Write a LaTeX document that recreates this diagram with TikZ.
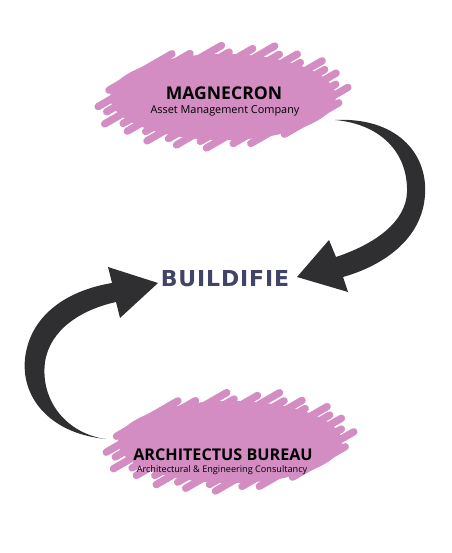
\documentclass[tikz,border=0pt]{standalone}
\usepackage{fontspec}
\setmainfont{Open Sans}
\newfontfamily\logofont[LetterSpace=4]{DejaVu Sans}
\definecolor{blobpink}{HTML}{D38DC2}
\definecolor{arrowgrey}{HTML}{2F2F31}
\definecolor{logonavy}{HTML}{3F4468}

% scribbled blob: centre x, centre y, half width, half height
\newcommand{\scribble}[4]{%
  \begin{scope}[shift={(#1,#2)}]
    \fill[blobpink] (0,0) ellipse ({#3} and {#4});
    \pgfmathsetmacro{\blobr}{(#3)/(#4)}
    \pgfmathsetmacro{\bdx}{cos(-30)}
    \pgfmathsetmacro{\bdy}{sin(-30)}
    \pgfmathsetmacro{\bnx}{0-(\bdy)}
    \pgfmathsetmacro{\bny}{\bdx}
    \pgfmathsetmacro{\bext}{sqrt((#3)*(#3)*(\bnx)*(\bnx)+(#4)*(#4)*(\bny)*(\bny))}
    \foreach \f/\ja/\jb in {-0.93/4/16,-0.8/14/6,-0.67/8/18,-0.53/18/4,-0.4/6/12,
                            -0.27/12/20,-0.13/4/8,0/16/14,0.13/6/4,0.27/14/16,
                            0.4/4/8,0.53/16/12,0.67/8/4,0.8/12/14,0.93/4/6}{
      \pgfmathsetmacro{\bt}{(\f)*(\bext)/(#3)}
      \pgfmathsetmacro{\bA}{(\bdx)*(\bdx)+(\blobr)*(\blobr)*(\bdy)*(\bdy)}
      \pgfmathsetmacro{\bB}{2*(\bt)*((\bnx)*(\bdx)+(\blobr)*(\blobr)*(\bny)*(\bdy))}
      \pgfmathsetmacro{\bC}{(\bt)*(\bt)*((\bnx)*(\bnx)+(\blobr)*(\blobr)*(\bny)*(\bny))-1}
      \pgfmathsetmacro{\bsq}{sqrt(max((\bB)*(\bB)-4*(\bA)*(\bC),0))}
      \pgfmathsetmacro{\bsa}{(0-(\bB)-(\bsq))/(2*(\bA))*(#3)-(\ja)}
      \pgfmathsetmacro{\bsb}{(0-(\bB)+(\bsq))/(2*(\bA))*(#3)+(\jb)}
      \draw[blobpink,line width=4.2pt,line cap=round]
        ({(\f)*(\bext)*(\bnx)+(\bsa)*(\bdx)},{(\f)*(\bext)*(\bny)+(\bsa)*(\bdy)}) --
        ({(\f)*(\bext)*(\bnx)+(\bsb)*(\bdx)},{(\f)*(\bext)*(\bny)+(\bsb)*(\bdy)});
    }
  \end{scope}}

\tikzset{
  firm/.style={font=\bfseries\fontsize{10}{12}\selectfont,inner sep=0pt},
  firmsub/.style={font=\fontsize{6.2}{7}\selectfont,inner sep=0pt},
  bigarrow/.style={fill=arrowgrey,draw=none}
}

\begin{document}
\begin{tikzpicture}[x=0.02cm,y=-0.02cm]
  \useasboundingbox (0,0) rectangle (451,553);

  % blobs
  \scribble{223}{97}{113}{43}
  \scribble{230}{442}{112}{41}

  % texts
  \node[firm] (mag) at (224,93) {MAGNECRON};
  \node[firmsub] (magsub) at (225,111) {Asset Management Company};
  \node[firm,font=\bfseries\fontsize{9.2}{11}\selectfont] (arch) at (223,455) {ARCHITECTUS BUREAU};
  \node[firmsub,font=\fontsize{5.2}{6}\selectfont] (archsub) at (222,470) {Architectural \& Engineering Consultancy};
  \node[inner sep=0pt,text=logonavy,font=\logofont\bfseries\fontsize{12.5}{14}\selectfont] (build) at (225,279) {BUILDIFIE};

  % top arrow, into BUILDIFIE from the right
  \coordinate (topstart) at (335,120);
  \coordinate (toptip) at (297,277);
  \fill[bigarrow] (topstart) .. controls (395,117) and (428,152) .. (425,195)
     .. controls (422,240) and (382,266) .. (343,277)
     -- (348,292) -- (toptip) -- (329,240) -- (336,257)
     .. controls (375,244) and (406,222) .. (407,192)
     .. controls (408,152) and (380,124) .. (topstart) -- cycle;

  % bottom arrow, into BUILDIFIE from the left
  \coordinate (botstart) at (106,439);
  \coordinate (bottip) at (158,283);
  \fill[bigarrow] (botstart) .. controls (45,433) and (18,392) .. (26,352)
     .. controls (34,312) and (70,290) .. (112,283)
     -- (108,267) -- (bottip) -- (120,318) -- (116,302)
     .. controls (80,310) and (50,330) .. (45,362)
     .. controls (40,402) and (68,434) .. (botstart) -- cycle;
\end{tikzpicture}
\end{document}
